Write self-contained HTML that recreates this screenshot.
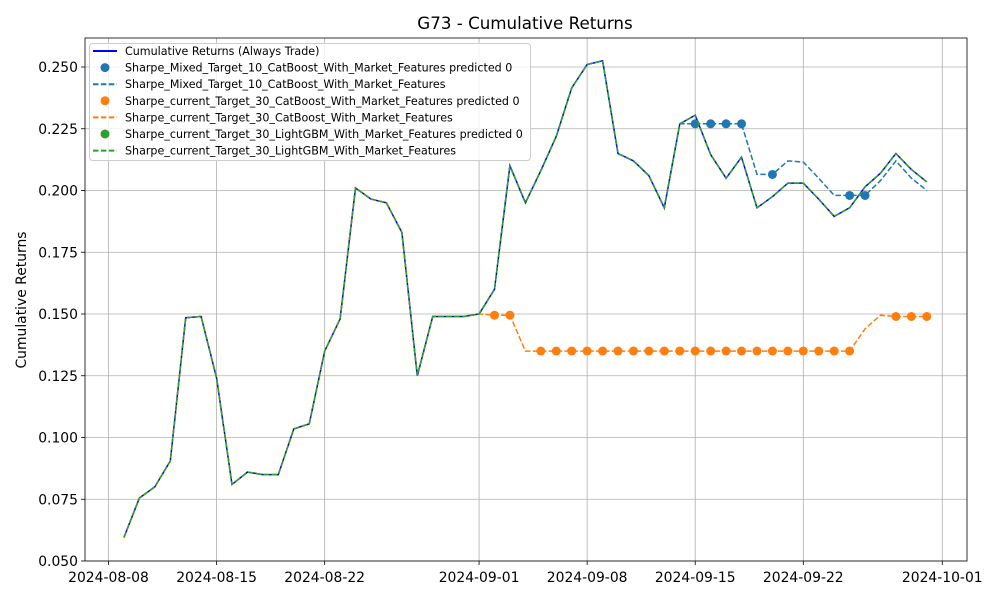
<!DOCTYPE html>
<html><head><meta charset="utf-8"><style>
body{margin:0;background:#fff}
svg text{font-family:"DejaVu Sans","Liberation Sans",sans-serif;fill:#000}
</style></head><body>
<svg id="chart" width="1000" height="600" xmlns="http://www.w3.org/2000/svg"></svg>
<script>
const startDate = "2024-08-09";
const alwaysTrade = [0.0595,0.0755,0.080,0.0905,0.1485,0.149,0.124,0.081,0.086,0.085,0.085,0.1035,0.1055,0.135,0.148,0.201,0.1965,0.195,0.183,0.125,0.149,0.149,0.149,0.150,0.160,0.210,0.195,0.208,0.222,0.2415,0.251,0.2525,0.215,0.212,0.206,0.193,0.227,0.2305,0.2145,0.205,0.2135,0.193,0.1975,0.203,0.203,0.1965,0.1895,0.193,0.2015,0.207,0.215,0.2085,0.2035];
const mixedTarget10 = alwaysTrade.slice(0,36).concat([0.227,0.227,0.227,0.227,0.227,0.2065,0.2065,0.212,0.2115,0.205,0.198,0.198,0.198,0.204,0.212,0.205,0.200]);
const mixedPred0 = [37,38,39,40,42,47,48];
const current30Cat = alwaysTrade.slice(0,24).concat([0.1495,0.1495,0.135,0.135,0.135,0.135,0.135,0.135,0.135,0.135,0.135,0.135,0.135,0.135,0.135,0.135,0.135,0.135,0.135,0.135,0.135,0.135,0.135,0.135,0.144,0.1495,0.149,0.149,0.149]);
const catPred0 = [24,25,27,28,29,30,31,32,33,34,35,36,37,38,39,40,41,42,43,44,45,46,47,50,51,52];
const current30Lgbm = alwaysTrade.slice();
const lgbmPred0 = [];
const yTicks = [0.050,0.075,0.100,0.125,0.150,0.175,0.200,0.225,0.250];
const xTickLabels = ["2024-08-08","2024-08-15","2024-08-22","2024-09-01","2024-09-08","2024-09-15","2024-09-22","2024-10-01"];

const L=85,R=967,T=38,B=561;
const t0=Date.parse("2024-08-08"), pxPerDay=15.44;
function xd(ms){return 108.5+(ms-t0)/86400000*pxPerDay;}
function xi(i){return xd(Date.parse(startDate)+i*86400000);}
function y(v){return 561-(v-0.05)/0.025*61.75;}
const svg=document.getElementById('chart');
const NS="http://www.w3.org/2000/svg";
function el(tag,attrs,parent){const e=document.createElementNS(NS,tag);for(const k in attrs)e.setAttribute(k,attrs[k]);(parent||svg).appendChild(e);return e;}

const title=el('text',{x:525,y:29,'text-anchor':'middle','font-size':'16.7'});title.textContent="G73 - Cumulative Returns";



const grid=el('g',{});


xTickLabels.forEach(l=>{const x=xd(Date.parse(l));
 el('line',{x1:x,x2:x,y1:T,y2:B,stroke:'#b0b0b0','stroke-width':0.8},grid);
 el('line',{x1:x,x2:x,y1:B,y2:B+4,stroke:'#000','stroke-width':0.8});
 const t=el('text',{x:x,y:B+21,'text-anchor':'middle','font-size':'13.9'});t.textContent=l;
 
 });
yTicks.forEach(v=>{const yy=y(v);
 el('line',{x1:L,x2:R,y1:yy,y2:yy,stroke:'#b0b0b0','stroke-width':0.8},grid);
 el('line',{x1:L-4,x2:L,y1:yy,y2:yy,stroke:'#000','stroke-width':0.8});
 const t=el('text',{x:L-7,y:yy+5,'text-anchor':'end','font-size':'13.9'});t.textContent=v.toFixed(3);
 
 });
const yl=el('text',{x:0,y:0,transform:'translate(26,300) rotate(-90)','text-anchor':'middle','font-size':'13.9'});yl.textContent="Cumulative Returns";



function pts(arr){return arr.map((v,i)=>xi(i).toFixed(1)+','+y(v).toFixed(1)).join(' ');}
function line(arr,color,dash,name){const p=el('polyline',{points:pts(arr),fill:'none',stroke:color,'stroke-width':1.5});if(dash)p.setAttribute('stroke-dasharray',dash);
 
 }
function dots(arr,idx,color,name){idx.forEach(i=>{const c=el('circle',{cx:xi(i),cy:y(arr[i]),r:4.5,fill:color});
 
 });}
line(alwaysTrade,'#0000ff',null,'always-trade-line');
dots(mixedTarget10,mixedPred0,'#1f77b4','mixed-target10-pred0-point');
line(mixedTarget10,'#1f77b4','5.5,2.4','mixed-target10-line');
dots(current30Cat,catPred0,'#ff7f0e','catboost-pred0-point');
line(current30Cat,'#ff7f0e','5.5,2.4','catboost-line');
dots(current30Lgbm,lgbmPred0,'#2ca02c','lightgbm-pred0-point');
line(current30Lgbm,'#2ca02c','5.5,2.4','lightgbm-line');

el('rect',{x:L,y:T,width:R-L,height:B-T,fill:'none',stroke:'#000','stroke-width':0.8});

const lg=el('g',{});


el('rect',{x:89.5,y:43.5,width:441,height:117,rx:3,fill:'#fff','fill-opacity':0.8,stroke:'#ccc'},lg);
const entries=[['line','#0000ff',null,'Cumulative Returns (Always Trade)'],
['dot','#1f77b4',null,'Sharpe_Mixed_Target_10_CatBoost_With_Market_Features predicted 0'],
['line','#1f77b4','5.5,2.4','Sharpe_Mixed_Target_10_CatBoost_With_Market_Features'],
['dot','#ff7f0e',null,'Sharpe_current_Target_30_CatBoost_With_Market_Features predicted 0'],
['line','#ff7f0e','5.5,2.4','Sharpe_current_Target_30_CatBoost_With_Market_Features'],
['dot','#2ca02c',null,'Sharpe_current_Target_30_LightGBM_With_Market_Features predicted 0'],
['line','#2ca02c','5.5,2.4','Sharpe_current_Target_30_LightGBM_With_Market_Features']];
entries.forEach((e,i)=>{const yy=51+i*16.6;const g=el('g',{},lg);
 
 
 if(e[0]=='line'){const l=el('line',{x1:93,x2:117,y1:yy,y2:yy,stroke:e[1],'stroke-width':2},g);if(e[2])l.setAttribute('stroke-dasharray',e[2]);}
 else el('circle',{cx:105,cy:yy,r:4.5,fill:e[1]},g);
 const t=el('text',{x:125,y:yy+4,'font-size':'11.1'},g);t.textContent=e[3];});
</script>
</body></html>
